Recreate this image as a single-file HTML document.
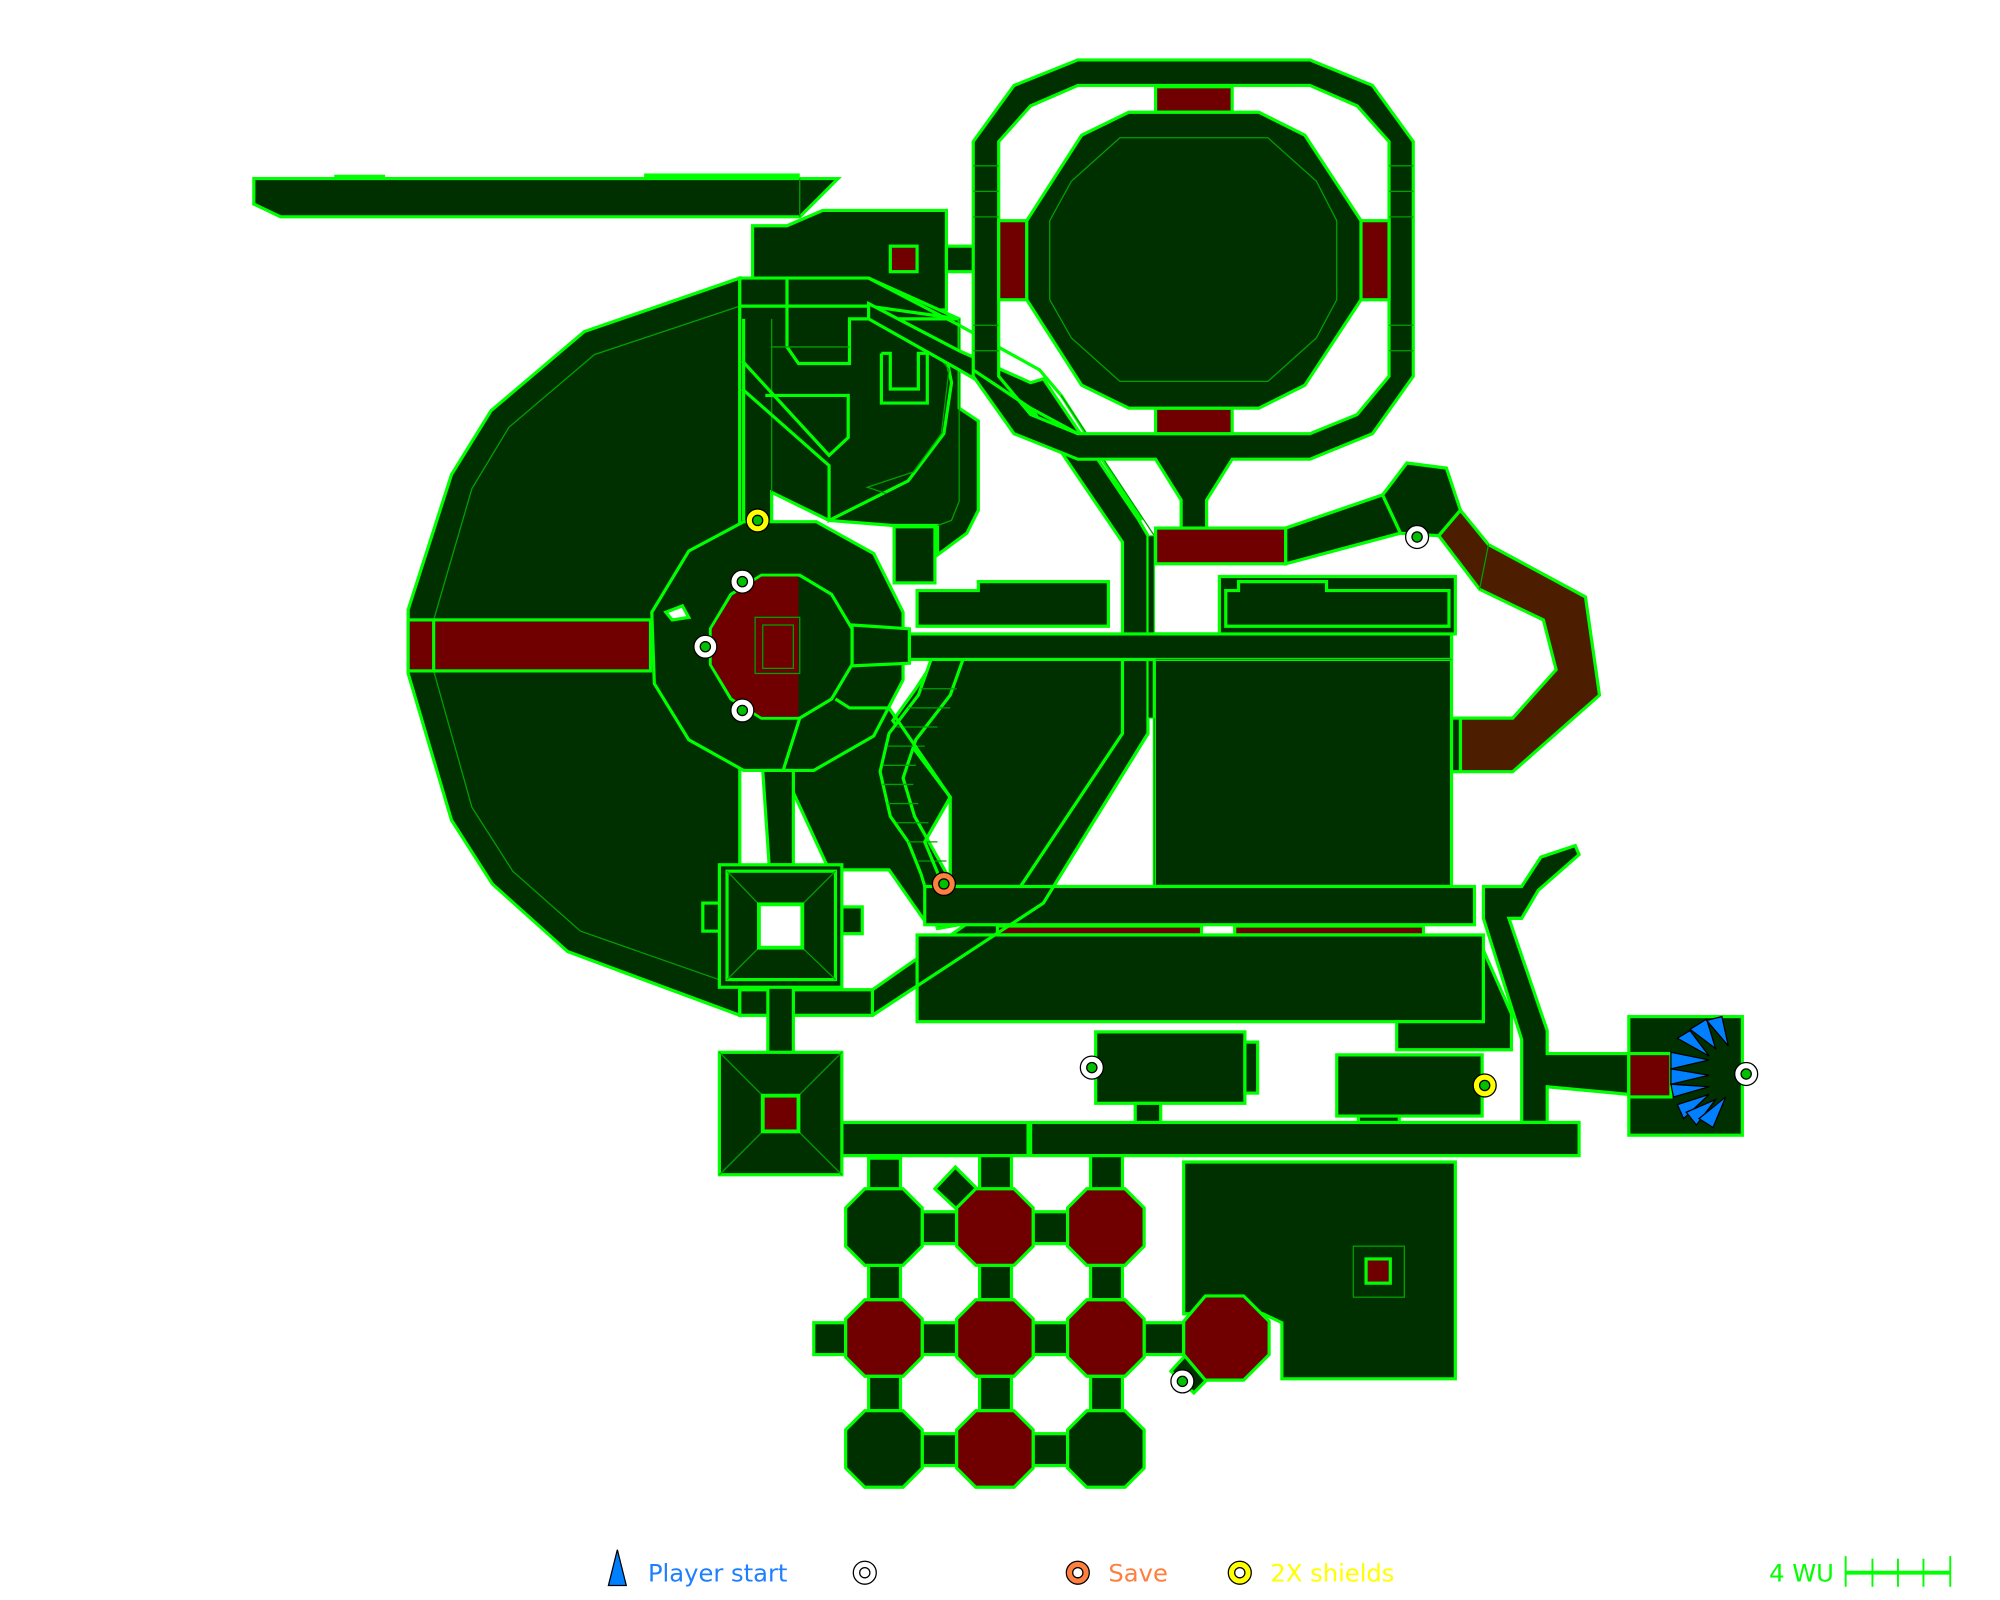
<!DOCTYPE html>
<html><head><meta charset="utf-8"><style>
html,body{margin:0;padding:0;background:#fff;}
svg{display:block;}
.r{fill:#003000;stroke:#00ff00;stroke-width:2.5;stroke-linejoin:miter;}
.d{fill:#700000;stroke:#00ff00;stroke-width:2.5;}
.b{fill:#4d1d00;stroke:#00ff00;stroke-width:2.5;}
.t{fill:none;stroke:#00a000;stroke-width:1;}
.l{fill:none;stroke:#00ff00;stroke-width:2.5;}
.w{fill:#fff;stroke:#00ff00;stroke-width:2.5;}
text{font-family:"DejaVu Sans","Liberation Sans",sans-serif;font-size:19px;}
</style></head><body>
<svg width="2000" height="1600" viewBox="0 0 1568 1254.4" xmlns="http://www.w3.org/2000/svg">
<!-- top-left bar -->
<polygon class="r" points="199,140 657,140 627,170 220,170 199,160"/>
<line class="t" x1="627" y1="140" x2="627" y2="170"/>
<rect x="262" y="137" width="40" height="3" fill="#00ff00"/><rect x="505" y="136" width="122" height="4" fill="#00ff00"/>

<!-- big left room -->
<polygon class="r" points="580,218 458,260 385,322 354,372 320,478 320,528 354,643 386,693 445,746 580,796"/>
<polyline class="t" points="580,240 466,278 399,335 370,383 340,486 340,526 370,633 402,683 455,730 575,772"/>
<rect class="d" x="320" y="486" width="190" height="40"/>
<line class="l" x1="340" y1="486" x2="340" y2="526"/>

<!-- upper-left rooms -->
<polygon class="r" points="590,177 617,177 645,165 742,165 742,243 590,243"/>
<rect class="d" x="698" y="193" width="21" height="20"/>
<rect class="r" x="742" y="193" width="22" height="20"/>
<polygon class="r" points="580,218 681,218 752,250 752,320 767,330 767,400 758,418 735,435 735,412 700,412 650,408 605,386 605,410 580,410"/>
<polyline class="l" points="583,250 583,408"/>
<polyline class="l" points="580,240 681,240 752,250"/>
<polyline class="l" points="617,218 617,272 626,285 666,285 666,250 752,250"/>
<polyline class="t" points="605,250 605,386"/>
<polyline class="t" points="605,272 666,272 M620,260 620,285"/>
<polyline class="l" points="582,283 650,357 665,343 665,310 600,310"/>
<polyline class="l" points="582,305 650,365 650,408 712,377 740,340 746,300 740,270"/>
<polyline class="t" points="728,268 744,290 738,340 716,370 680,382 695,387"/>
<polyline class="l" points="691,277 691,316 727,316 727,277 720,277 720,305 698,305 698,277 691,277"/>
<polyline class="t" points="752,250 752,393 746,408 735,412"/>
<rect class="r" x="701" y="413" width="32" height="44"/>

<!-- diagonal corridor -->
<polygon class="r" points="681,238 752,275 808,300 818,297 893,408 900,420 900,575 818,708 684,796 580,796 580,776 684,776 800,695 880,575 880,425 812,325 752,290 681,250"/>
<polyline class="l" points="681,218 752,255 815,290 832,310 895,408"/>
<line class="t" x1="832" y1="310" x2="905" y2="420"/>
<rect x="900" y="420" width="5" height="143" fill="#003000" stroke="#00ff00" stroke-width="1"/>

<!-- top-right ring -->
<path class="r" fill-rule="evenodd" d="M845,47 L1027,47 1076,67 1108,111 1108,295 1076,340 1027,360 966,360 946,392 946,414 926,414 926,392 906,360 845,360 795,340 763,295 763,111 795,67 Z M845,67 L1027,67 1064,83 1089,111 1089,295 1064,325 1027,340 845,340 808,325 783,295 783,111 808,83 Z"/>
<rect class="d" x="906" y="68" width="60" height="20"/>
<rect class="d" x="906" y="320" width="60" height="20"/>
<rect class="d" x="783" y="173" width="22" height="62"/>
<rect class="d" x="1067" y="173" width="22" height="62"/>
<polygon class="r" points="885,88 987,88 1023,106 1067,173 1067,235 1023,302 987,320 885,320 848,302 805,235 805,173 848,106"/>
<polygon class="t" points="878,108 994,108 1032,142 1048,173 1048,235 1032,265 994,299 878,299 840,265 823,235 823,173 840,142"/>
<g class="t"><line x1="763" y1="130" x2="783" y2="130"/><line x1="763" y1="150" x2="783" y2="150"/><line x1="763" y1="170" x2="783" y2="170"/><line x1="763" y1="255" x2="783" y2="255"/><line x1="763" y1="275" x2="783" y2="275"/>
<line x1="1089" y1="130" x2="1108" y2="130"/><line x1="1089" y1="150" x2="1108" y2="150"/><line x1="1089" y1="170" x2="1108" y2="170"/><line x1="1089" y1="255" x2="1108" y2="255"/><line x1="1089" y1="275" x2="1108" y2="275"/></g>
<polyline class="l" points="763,290 808,320 845,340"/>

<!-- red bar and right hex / brown corridor -->
<rect class="d" x="906" y="414" width="102" height="28"/>
<polygon class="r" points="1008,414 1084,388 1098,418 1008,442"/>
<polygon class="r" points="1084,388 1103,363 1134,367 1145,400 1128,420 1098,418"/>
<polygon class="b" points="1145,400 1167,427 1243,468 1254,545 1186,605 1145,605 1145,563 1186,563 1220,525 1210,486 1160,462 1128,420"/>
<polyline class="t" points="1167,427 1160,462 M1210,486 1243,468 M1220,525 1254,545 M1186,563 1186,605"/>

<!-- central room -->
<polygon class="r" points="614,604 638,604 697,555 745,625 725,660 745,695 725,722 697,682 650,682"/>
<polygon class="r" points="540,432 583,409 640,409 685,434 708,480 708,533 685,577 638,604 583,604 540,580 513,536 511,480"/>
<polygon class="w" points="522,480 535,475 540,484 527,486"/>
<polygon class="r" points="668,490 713,493 713,520 668,522"/>
<polygon class="r" points="597,451 627,451 652,466 668,493 668,521 652,548 627,563 597,563 573,548 557,521 557,493 573,466"/>
<polygon fill="#700000" points="597,452 626,452 626,562 597,562 574,547 558,521 558,493 574,467"/>
<rect class="t" x="592" y="484" width="35" height="44"/><rect class="t" x="598" y="490" width="24" height="34"/>
<polyline class="l" points="655,548 666,555 697,555"/>
<polygon class="r" points="598,604 622,604 622,678 603,678"/>
<line class="l" x1="627" y1="563" x2="614" y2="604"/>

<!-- mid section -->
<polygon class="r" points="733,517 880,517 880,575 800,695 745,695 745,625 700,565 718,540"/>
<polygon class="r" points="730,517 755,517 745,545 718,580 708,610 717,640 745,690 752,725 735,728 722,685 712,660 698,640 690,605 697,575 720,545"/>
<g class="t"><line x1="722" y1="540" x2="750" y2="540"/><line x1="712" y1="555" x2="745" y2="555"/><line x1="703" y1="570" x2="735" y2="570"/><line x1="696" y1="585" x2="725" y2="585"/><line x1="692" y1="600" x2="718" y2="600"/><line x1="692" y1="615" x2="716" y2="615"/><line x1="696" y1="630" x2="720" y2="630"/><line x1="703" y1="645" x2="728" y2="645"/><line x1="712" y1="660" x2="735" y2="660"/><line x1="720" y1="675" x2="742" y2="675"/></g>
<polyline class="l" points="697,555 745,625 725,660 752,725"/>
<rect class="r" x="905" y="497" width="233" height="198"/>
<rect class="r" x="1138" y="563" width="7" height="42"/>
<rect class="r" x="713" y="497" width="425" height="20"/>
<line class="t" x1="906" y1="517" x2="1138" y2="517"/>
<polygon class="r" points="719,463 767,463 767,456 869,456 869,491 719,491"/>
<polygon class="r" points="956,452 1141,452 1141,497 956,497"/>
<polygon class="r" points="961,463 971,463 971,456 1040,456 1040,463 1136,463 1136,491 961,491"/>
<polyline class="t" points="905,563 905,695 745,695"/>
<rect class="r" x="725" y="695" width="431" height="30"/>
<rect class="d" x="782" y="726" width="160" height="7"/><rect class="d" x="968" y="726" width="148" height="7"/>
<rect class="r" x="719" y="733" width="444" height="68"/>
<polyline class="l" points="900,575 818,708 684,796"/>

<!-- right corridor & start room -->
<polygon class="r" points="1163,695 1183,695 1193,695 1208,672 1235,663 1238,670 1206,698 1193,720 1183,720 1213,808 1213,826 1277,826 1277,858 1213,852 1213,880 1193,880 1193,815 1163,720"/>
<polygon class="r" points="1163,745 1185,795 1185,823 1095,823 1095,801 1163,801"/>
<rect class="r" x="1277" y="797" width="89" height="93"/>
<rect class="d" x="1277" y="826" width="33" height="34"/>
<g fill="#0080ff" stroke="#000" stroke-width="1">
<polygon points="1310,825 1340,831 1310,838"/><polygon points="1310,838 1340,843 1310,850"/><polygon points="1310,850 1340,852 1312,860"/>
<polygon points="1315,814 1340,828 1325,808"/><polygon points="1325,807 1345,822 1338,799"/><polygon points="1338,800 1355,820 1350,797"/>
<polygon points="1315,866 1340,858 1320,877"/><polygon points="1322,872 1345,862 1330,882"/><polygon points="1332,877 1353,860 1343,884"/>
</g>

<!-- lower rooms -->
<rect class="r" x="859" y="809" width="117" height="56"/>
<rect class="r" x="976" y="817" width="10" height="40"/>
<rect class="r" x="890" y="865" width="20" height="16"/>
<polygon class="r" points="1048,827 1162,827 1162,875 1048,875"/>
<rect class="r" x="1065" y="875" width="32" height="8"/>
<rect class="r" x="660" y="880" width="146" height="26"/>
<rect class="r" x="808" y="880" width="430" height="26"/>
<polygon class="r" points="928,911 1141,911 1141,1081 1005,1081 1005,1037 990,1030 928,1030"/>
<rect class="t" x="1061" y="977" width="40" height="40"/>
<rect class="d" x="1071" y="987" width="19" height="19"/>

<!-- square rooms -->
<rect class="r" x="580" y="776" width="104" height="20"/>
<rect class="r" x="602" y="770" width="20" height="90"/>
<rect class="r" x="564" y="825" width="96" height="96"/>
<path class="t" d="M564,825 L598,859 M660,825 L626,859 M564,921 L598,887 M660,921 L626,887"/>
<rect class="d" x="598" y="859" width="28" height="28" style="stroke-width:3"/>
<rect class="r" x="551" y="708" width="15" height="22"/>
<rect class="r" x="660" y="711" width="16" height="21"/>
<rect class="r" x="564" y="678" width="96" height="96"/>
<rect class="l" x="570" y="683" width="85" height="85"/>
<path class="t" d="M570,683 L595,709 M655,683 L629,709 M570,768 L595,743 M655,768 L629,743"/>
<rect class="w" x="595" y="709" width="34" height="34" style="stroke-width:3"/>

<!-- octagon grid connectors -->
<g class="r">
<rect x="681" y="908" width="25" height="25"/><rect x="768" y="906" width="25" height="27"/><rect x="855" y="906" width="25" height="27"/>
<rect x="723" y="950" width="27" height="25"/><rect x="810" y="950" width="27" height="25"/>
<rect x="723" y="1037" width="27" height="25"/><rect x="810" y="1037" width="27" height="25"/><rect x="897" y="1037" width="31" height="25"/>
<rect x="723" y="1124" width="27" height="25"/><rect x="810" y="1124" width="27" height="25"/>
<rect x="681" y="992" width="25" height="27"/><rect x="768" y="992" width="25" height="27"/><rect x="855" y="992" width="25" height="27"/>
<rect x="681" y="1079" width="25" height="27"/><rect x="768" y="1079" width="25" height="27"/><rect x="855" y="1079" width="25" height="27"/>
<rect x="638" y="1037" width="25" height="25"/>
<polygon points="733,932 749,915 766,932 750,948"/>
<polygon points="918,1075 930,1062 948,1080 936,1092"/>
</g>
<g class="r">
<polygon points="678,932 708,932 723,947 723,977 708,992 678,992 663,977 663,947"/>
<polygon points="678,1106 708,1106 723,1121 723,1151 708,1166 678,1166 663,1151 663,1121"/>
<polygon points="852,1106 882,1106 897,1121 897,1151 882,1166 852,1166 837,1151 837,1121"/>
</g>
<g class="d">
<polygon points="765,932 795,932 810,947 810,977 795,992 765,992 750,977 750,947"/>
<polygon points="852,932 882,932 897,947 897,977 882,992 852,992 837,977 837,947"/>
<polygon points="678,1019 708,1019 723,1034 723,1064 708,1079 678,1079 663,1064 663,1034"/>
<polygon points="765,1019 795,1019 810,1034 810,1064 795,1079 765,1079 750,1064 750,1034"/>
<polygon points="852,1019 882,1019 897,1034 897,1064 882,1079 852,1079 837,1064 837,1034"/>
<polygon points="765,1106 795,1106 810,1121 810,1151 795,1166 765,1166 750,1151 750,1121"/>
<polygon points="945,1016 975,1016 995,1036 995,1062 975,1082 945,1082 928,1062 928,1036"/>
</g>

<!-- item markers -->
<g stroke="#000" stroke-width="1">
<g fill="#fff"><circle cx="582" cy="456" r="9"/><circle cx="553" cy="507" r="9"/><circle cx="582" cy="557" r="9"/><circle cx="1111" cy="421" r="9"/><circle cx="856" cy="837" r="9"/><circle cx="1369" cy="842" r="9"/><circle cx="927" cy="1083" r="9"/></g>
<g fill="#ffff00"><circle cx="594" cy="408" r="9"/><circle cx="1164" cy="851" r="9"/></g>
<circle cx="740" cy="693" r="9" fill="#ff7f3f"/>
<g fill="#00c000"><circle cx="582" cy="456" r="4"/><circle cx="553" cy="507" r="4"/><circle cx="582" cy="557" r="4"/><circle cx="1111" cy="421" r="4"/><circle cx="856" cy="837" r="4"/><circle cx="1369" cy="842" r="4"/><circle cx="927" cy="1083" r="4"/><circle cx="594" cy="408" r="4"/><circle cx="1164" cy="851" r="4"/><circle cx="740" cy="693" r="4"/></g>
</g>

<!-- legend -->
<polygon points="484,1215 491,1243 477,1243" fill="#0080ff" stroke="#000" stroke-width="1"/>
<text x="508" y="1240" fill="#1e7fff">Player start</text>
<circle cx="678" cy="1233" r="9" fill="#fff" stroke="#000"/><circle cx="678" cy="1233" r="4" fill="#fff" stroke="#000"/>
<circle cx="845" cy="1233" r="9" fill="#ff7f3f" stroke="#000"/><circle cx="845" cy="1233" r="4" fill="#fff" stroke="#000"/>
<text x="869" y="1240" fill="#ff7f3f">Save</text>
<circle cx="972" cy="1233" r="9" fill="#ffff00" stroke="#000"/><circle cx="972" cy="1233" r="4" fill="#fff" stroke="#000"/>
<text x="996" y="1240" fill="#ffff00">2X shields</text>
<text x="1387" y="1240" fill="#00ff00">4 WU</text>
<g stroke="#00ff00" stroke-width="1.5"><line x1="1447" y1="1233" x2="1529" y2="1233" stroke-width="3"/><line x1="1447" y1="1220" x2="1447" y2="1244"/><line x1="1468" y1="1222" x2="1468" y2="1244"/><line x1="1488" y1="1222" x2="1488" y2="1244"/><line x1="1508" y1="1222" x2="1508" y2="1244"/><line x1="1529" y1="1220" x2="1529" y2="1244"/></g>
</svg>
</body></html>
